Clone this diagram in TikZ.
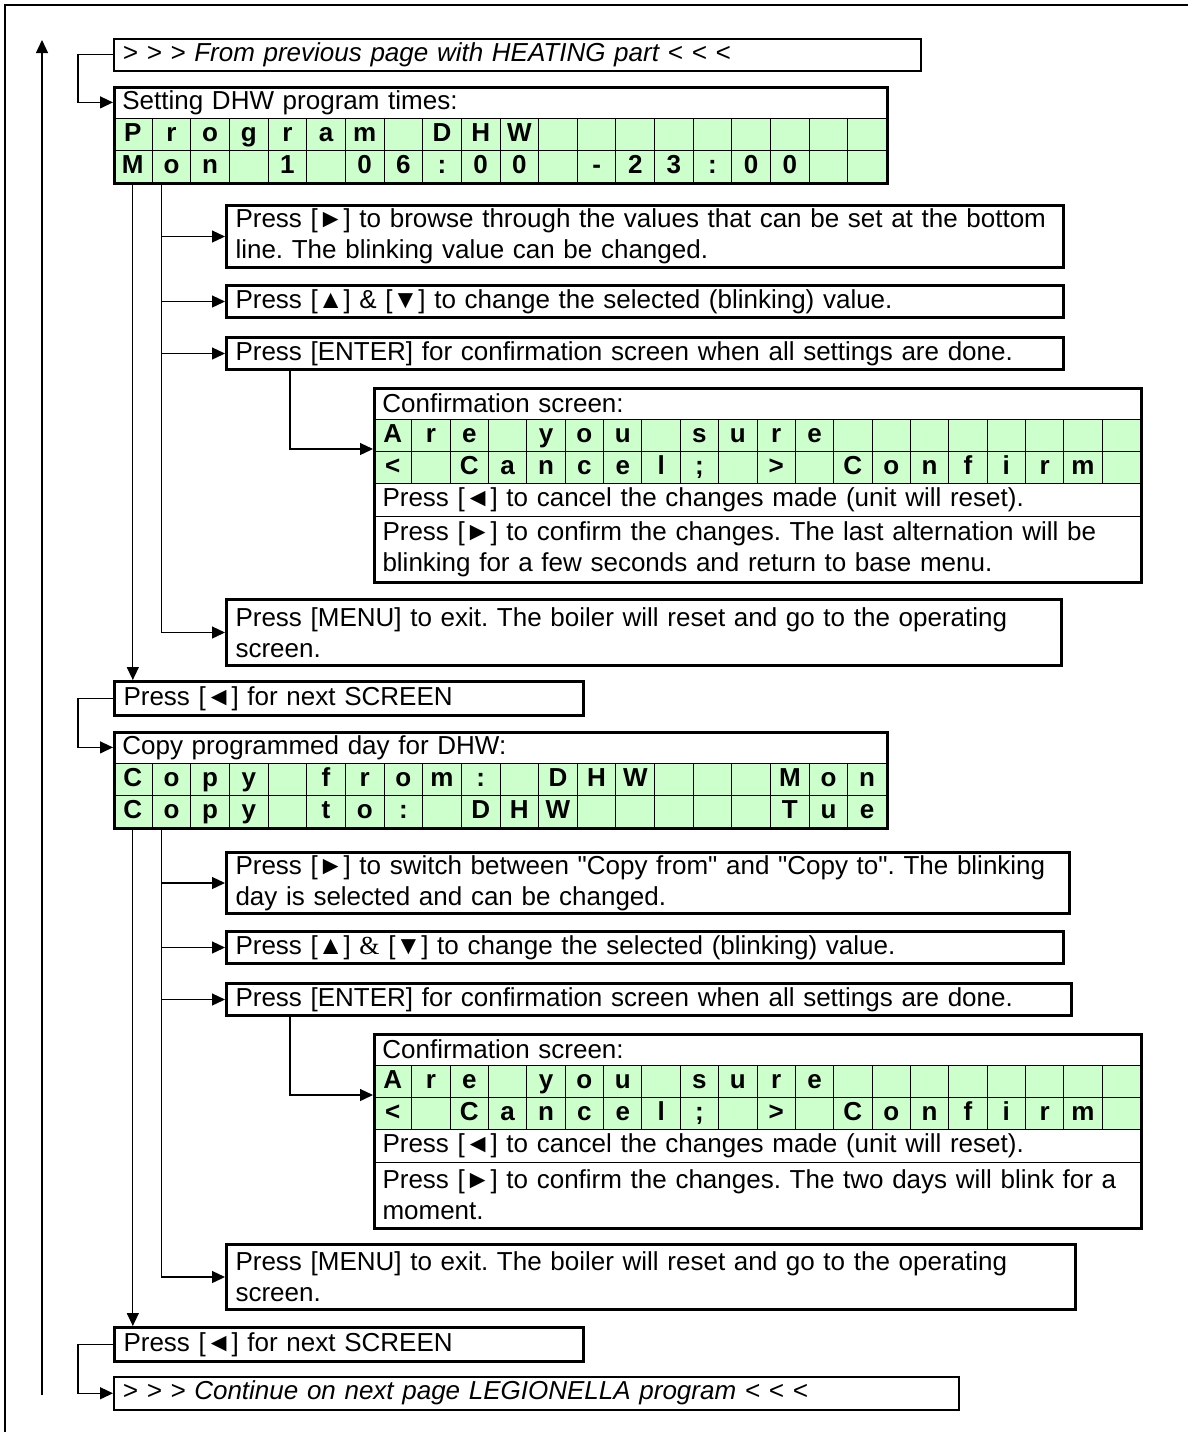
\documentclass[tikz,border=0pt]{standalone}
\usepackage{fontspec}
\setmainfont{Liberation Sans}
\newfontfamily\serifamp{Liberation Serif}
\usetikzlibrary{arrows.meta,calc}
\definecolor{lcdgreen}{RGB}{204,255,204}
\frenchspacing
\hyphenpenalty=10000
\newcommand{\boxfont}{\fontsize{13pt}{15.5pt}\selectfont}
% one row of 20 LCD cells: name, x, y, cell width (px), characters
\newcommand{\lcdrow}[5]{%
  \pgfmathsetlengthmacro{\cellw}{#4*0.5pt}%
  \foreach \ch [count=\i] in {#5}
    \node[lcdcell, minimum width=\cellw] (#1-\i) at ({#2+(\i-1)*#4},#3) {\ch};%
}

\begin{document}
\begin{tikzpicture}[x=0.5pt, y=-0.5pt, font=\boxfont,
  flow/.style={line width=0.65pt, -{Triangle[length=6.5pt,width=6pt]}},
  tbox/.style={draw, line width=1.5pt, anchor=north west, inner xsep=4.5pt,
    inner ysep=0pt, align=left, minimum height=16pt},
  thinbox/.style={tbox, line width=0.75pt, font=\boxfont\itshape},
  rowtext/.style={anchor=north west, inner xsep=4.5pt, inner ysep=0pt,
    align=left, minimum height=16pt},
  rowline/.style={rowtext, draw, line width=0.5pt},
  lcdcell/.style={draw, line width=0.5pt, fill=lcdgreen, anchor=north west,
    inner sep=0pt, minimum height=16pt, text height=9.6pt, text depth=2.9pt,
    font=\boxfont\bfseries},
  scrframe/.style={draw, line width=1.5pt, anchor=north west, inner sep=0pt}]
  \useasboundingbox (0,0) rectangle (1188,1432);

  % page frame
  \draw[line width=1pt] (1188,5) -- (5,5) -- (5,1432);

  % return arrow on the left
  \coordinate (loopBottom) at (42,1395);
  \coordinate (loopTop) at (42,40);
  \draw[flow] (loopBottom) -- (loopTop);

  % ---------- DHW program times ----------
  \node[thinbox, text width=394.5pt, minimum height=16pt] (fromBox) at (113,38)
    {> > > From previous page with HEATING part < < <};

  \node[rowtext, text width=377.5pt] (scrA-title) at (113,86) {Setting DHW program times:};
  \lcdrow{scrA-a}{113}{118}{38.65}{P,r,o,g,r,a,m,{},D,H,W,{},{},{},{},{},{},{},{},{}}
  \lcdrow{scrA-b}{113}{150}{38.65}{M,o,n,{},1,{},0,6,:,0,0,{},-,2,3,:,0,0,{},{}}
  \node[scrframe, minimum width=386.5pt, minimum height=48pt] (scrA) at (113,86) {};

  \node[tbox, text width=409.5pt, minimum height=31pt] (browseA) at (225,204)
    {Press [►] to browse through the values that can be set at the bottom\\
     line. The blinking value can be changed.};
  \node[tbox, text width=409.5pt] (keysA) at (225,284)
    {Press [▲] \& [▼] to change the selected (blinking) value.};
  \node[tbox, text width=409.5pt] (enterA) at (225,336)
    {Press [ENTER] for confirmation screen when all settings are done.};

  % confirmation screen
  \node[rowtext, text width=374.5pt] (confA-title) at (373,387) {Confirmation screen:};
  \lcdrow{confA-a}{373}{419}{38.35}{A,r,e,{},y,o,u,{},s,u,r,e,{},{},{},{},{},{},{},{}}
  \lcdrow{confA-b}{373}{451}{38.35}{<,{},C,a,n,c,e,l,;,{},>,{},C,o,n,f,i,r,m,{}}
  \node[rowline, text width=374.5pt, minimum height=16.5pt] (cancelA) at (373,483)
    {Press [◄] to cancel the changes made (unit will reset).};
  \node[rowline, text width=374.5pt, minimum height=32.5pt] (okA) at (373,516)
    {Press [►] to confirm the changes. The last alternation will be\\
     blinking for a few seconds and return to base menu.};
  \node[scrframe, minimum width=383.5pt, minimum height=97pt] (confA) at (373,387) {};

  \node[tbox, text width=408.5pt, minimum height=33pt] (menuA) at (225,598)
    {Press [MENU] to exit. The boiler will reset and go to the operating\\
     screen.};
  \node[tbox, text width=225.5pt, minimum height=17pt] (nextA) at (113,680)
    {Press [◄] for next SCREEN};

  % connectors
  \draw[flow] (fromBox.west) -- ++(-35,0) |- (scrA-title.west);
  \coordinate (trunkA) at ($(scrA-b-2.south west)+(10,0)$);
  \foreach \b in {browseA,keysA,enterA}
    \draw[flow] (trunkA |- \b.west) -- (\b.west);
  \draw[flow] (trunkA) |- (menuA.west);
  \draw[flow] (scrA-b-1.south) -- (scrA-b-1.south |- nextA.north);
  \draw[flow] ($(enterA.south west)+(65,0)$) |- ($(confA-a-1.south west)+(0,-3)$);

  % ---------- copy programmed day ----------
  \node[rowtext, text width=377.5pt] (scrB-title) at (113,731) {Copy programmed day for DHW:};
  \lcdrow{scrB-a}{113}{763}{38.65}{C,o,p,y,{},f,r,o,m,:,{},D,H,W,{},{},{},M,o,n}
  \lcdrow{scrB-b}{113}{795}{38.65}{C,o,p,y,{},t,o,:,{},D,H,W,{},{},{},{},{},T,u,e}
  \node[scrframe, minimum width=386.5pt, minimum height=48pt] (scrB) at (113,731) {};

  \node[tbox, text width=412.5pt, minimum height=30.5pt] (switchB) at (225,851)
    {Press [►] to switch between \textquotedbl Copy from\textquotedbl{} and
     \textquotedbl Copy to\textquotedbl. The blinking\\
     day is selected and can be changed.};
  \node[tbox, text width=409.5pt] (keysB) at (225,930)
    {Press [▲] {\serifamp\&} [▼] to change the selected (blinking) value.};
  \node[tbox, text width=413.5pt] (enterB) at (225,982)
    {Press [ENTER] for confirmation screen when all settings are done.};

  % confirmation screen
  \node[rowtext, text width=374.5pt] (confB-title) at (373,1033) {Confirmation screen:};
  \lcdrow{confB-a}{373}{1065}{38.35}{A,r,e,{},y,o,u,{},s,u,r,e,{},{},{},{},{},{},{},{}}
  \lcdrow{confB-b}{373}{1097}{38.35}{<,{},C,a,n,c,e,l,;,{},>,{},C,o,n,f,i,r,m,{}}
  \node[rowline, text width=374.5pt, minimum height=16.5pt] (cancelB) at (373,1129)
    {Press [◄] to cancel the changes made (unit will reset).};
  \node[rowline, text width=374.5pt, minimum height=32.5pt] (okB) at (373,1162)
    {Press [►] to confirm the changes. The two days will blink for a\\
     moment.};
  \node[scrframe, minimum width=383.5pt, minimum height=97pt] (confB) at (373,1033) {};

  \node[tbox, text width=415.5pt, minimum height=32.5pt] (menuB) at (225,1243)
    {Press [MENU] to exit. The boiler will reset and go to the operating\\
     screen.};
  \node[tbox, text width=225.5pt, minimum height=17pt] (nextB) at (113,1326)
    {Press [◄] for next SCREEN};
  \node[thinbox, text width=413.5pt, minimum height=16.5pt] (contBox) at (113,1376)
    {> > > Continue on next page LEGIONELLA program < < <};

  % connectors
  \draw[flow] (nextA.west) -- ++(-35,0) |- (scrB-title.west);
  \coordinate (trunkB) at ($(scrB-b-2.south west)+(10,0)$);
  \foreach \b in {switchB,keysB,enterB}
    \draw[flow] (trunkB |- \b.west) -- (\b.west);
  \draw[flow] (trunkB) |- (menuB.west);
  \draw[flow] (scrB-b-1.south) -- (scrB-b-1.south |- nextB.north);
  \draw[flow] ($(enterB.south west)+(65,0)$) |- ($(confB-a-1.south west)+(0,-3)$);
  \draw[flow] (nextB.west) -- ++(-35,0) |- (contBox.west);
\end{tikzpicture}
\end{document}
